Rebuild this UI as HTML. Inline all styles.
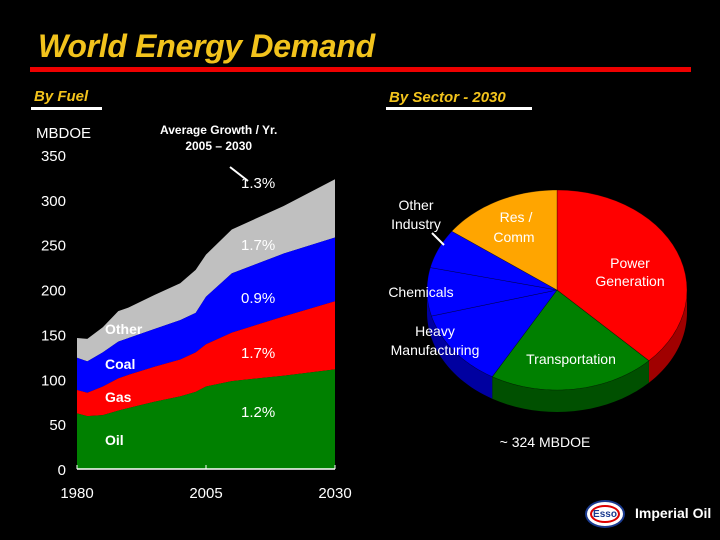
<!DOCTYPE html>
<html><head><meta charset="utf-8"><style>
html,body{margin:0;padding:0;background:#000;}
body{width:720px;height:540px;overflow:hidden;position:relative;font-family:"Liberation Sans",sans-serif;}
.t{position:absolute;color:#fff;white-space:nowrap;}
</style></head><body>
<div class="t" style="left:38px;top:28px;font-size:32px;font-weight:bold;font-style:italic;color:#f2c31c;letter-spacing:-0.3px">World Energy Demand</div>
<div style="position:absolute;left:30px;top:67px;width:661px;height:5px;background:#e00"></div>
<div class="t" style="left:34px;top:88px;font-size:15px;font-weight:bold;font-style:italic;color:#f2c31c">By Fuel</div>
<div style="position:absolute;left:31px;top:107px;width:71px;height:3px;background:#fff"></div>
<div class="t" style="left:389px;top:89px;font-size:15px;font-weight:bold;font-style:italic;color:#f2c31c">By Sector - 2030</div>
<div style="position:absolute;left:386px;top:107px;width:146px;height:3px;background:#fff"></div>
<div class="t" style="left:36px;top:125px;font-size:15px">MBDOE</div>
<div class="t" style="left:160px;top:122px;font-size:12px;font-weight:bold;text-align:center;line-height:16px">Average Growth / Yr.<br>2005 – 2030</div>
<svg id="chart" width="720" height="540" style="position:absolute;left:0;top:0"></svg>
<div style="position:absolute;left:585px;top:500px;width:40px;height:28px;border-radius:50%;background:#fff;border:2px solid #1a3a8f;box-sizing:border-box">
<div style="position:absolute;left:3px;top:3px;right:3px;bottom:3px;border-radius:50%;border:2px solid #d00;box-sizing:border-box;color:#1a3a8f;font-size:10px;font-weight:bold;text-align:center;line-height:16px">Esso</div></div>
<div class="t" style="left:635px;top:505px;font-size:14px;font-weight:bold">Imperial Oil</div>
<script>
const years=[1980,1982,1985,1988,1990,1995,2000,2003,2005,2010,2020,2030];
const oil=[62,59,60,65,68,75,81,86,92,98,104,111];
const gas=[26,26,32,36,37,39,41,44,47,54,66,76];
const coal=[36,35,38,41,41,42,44,44,53,66,70,71];
const other=[22,25,28,34,34,38,41,48,47,49,53,65];
const yTicks=[0,50,100,150,200,250,300,350];
const xTicks=[1980,2005,2030];
const sectors=["Power Generation","Transportation","Heavy Manufacturing","Chemicals","Other Industry","Res / Comm"];
const shares=[37.5,20.8,12.5,7.8,6.4,15.0];
const NS="http://www.w3.org/2000/svg";
const svg=document.getElementById('chart');
function mk(t,a){const e=document.createElementNS(NS,t);for(const k in a)e.setAttribute(k,a[k]);svg.appendChild(e);return e;}
const X=v=>77+(v-1980)*(335-77)/50;
const Y=v=>469-v*(469-155)/350;
const layers=[[oil,'#008000','oil'],[gas,'#ff0000','gas'],[coal,'#0000ff','coal'],[other,'#c0c0c0','other']];
let base=years.map(()=>0);
const areas=[];
layers.forEach(([arr,col,nm])=>{
  const top=base.map((b,i)=>b+arr[i]);
  let d='M'+years.map((y,i)=>X(y)+','+Y(top[i])).join('L');
  for(let i=years.length-1;i>=0;i--)d+='L'+X(years[i])+','+Y(base[i]);
  areas.push([d+'Z',col,nm]);
  base=top;
});
for(let i=areas.length-1;i>=0;i--){
  const e=mk('path',{d:areas[i][0],fill:areas[i][1]});
  
  
}
yTicks.forEach(v=>{const t=mk('text',{x:66,y:Y(v)+6,'text-anchor':'end',fill:'#fff','font-size':15,'font-family':'Liberation Sans'});t.textContent=v;

});
const ax=mk('line',{x1:X(1980),x2:X(2030),y1:469,y2:469,stroke:'#fff','stroke-width':1.5});


xTicks.forEach(v=>{mk('line',{x1:X(v),x2:X(v),y1:465,y2:469,stroke:'#fff'});
const t=mk('text',{x:X(v),y:498,'text-anchor':'middle',fill:'#fff','font-size':15,'font-family':'Liberation Sans'});t.textContent=v;

});
function txt(s,x,y,size,nm,anchor,w){const t=mk('text',{x:x,y:y,fill:'#fff','font-size':size,'font-family':'Liberation Sans','text-anchor':anchor||'start','font-weight':w||'normal'});t.textContent=s;

return t;}
txt('Other',105,334,14,'label-other','start','bold');txt('Coal',105,369,14,'label-coal','start','bold');txt('Gas',105,402,14,'label-gas','start','bold');txt('Oil',105,445,14,'label-oil','start','bold');
txt('1.3%',241,188,15,'growth-total');txt('1.7%',241,250,15,'growth-other');txt('0.9%',241,303,15,'growth-coal');txt('1.7%',241,358,15,'growth-gas');txt('1.2%',241,417,15,'growth-oil');
mk('line',{x1:230,y1:167,x2:248,y2:181,stroke:'#fff','stroke-width':2});
const cx=557,cy=290,rx=130,ry=100,dep=22;
const cols=['#ff0000','#008000','#0000ff','#0000ff','#0000ff','#ffa500'];
const dark=['#a00000','#005000','#0000a0','#0000a0','#0000a0','#b07000'];
let ang=-90;const segs=[];
shares.forEach((s,i)=>{const a0=ang,a1=ang+s*3.6;segs.push([a0,a1]);ang=a1;});
const P=(a,dy)=>[cx+rx*Math.cos(a*Math.PI/180),cy+(dy||0)+ry*Math.sin(a*Math.PI/180)];
segs.forEach(([a0,a1],i)=>{
  const s=Math.max(a0,0),e=Math.min(a1,180);if(e<=s)return;
  let d='M'+P(s).join(',');const n=20;
  for(let k=1;k<=n;k++)d+='L'+P(s+(e-s)*k/n).join(',');
  for(let k=n;k>=0;k--)d+='L'+P(s+(e-s)*k/n,dep).join(',');
  const el=mk('path',{d:d+'Z',fill:dark[i]});
  
  
});
segs.forEach(([a0,a1],i)=>{
  let d='M'+cx+','+cy;const n=30;
  for(let k=0;k<=n;k++)d+='L'+P(a0+(a1-a0)*k/n).join(',');
  const el=mk('path',{d:d+'Z',fill:cols[i],stroke:'#000','stroke-width':0.6,'stroke-opacity':0.5});
  
  
});
txt('Res /',516,222,14,'label-res-comm','middle');txt('Comm',514,242,14,'label-res-comm-2','middle');
txt('Power',630,268,14,'label-power','middle');txt('Generation',630,286,14,'label-power-2','middle');
txt('Transportation',571,364,14,'label-transportation','middle');
txt('Chemicals',421,297,14,'label-chemicals','middle');
txt('Heavy',435,336,14,'label-heavy','middle');txt('Manufacturing',435,355,14,'label-heavy-2','middle');
txt('Other',416,210,14,'label-other-industry','middle');txt('Industry',416,229,14,'label-other-industry-2','middle');
mk('line',{x1:432,y1:233,x2:444,y2:245,stroke:'#fff','stroke-width':2});
txt('~ 324 MBDOE',545,447,14,'pie-total','middle');
</script>
</body></html>
